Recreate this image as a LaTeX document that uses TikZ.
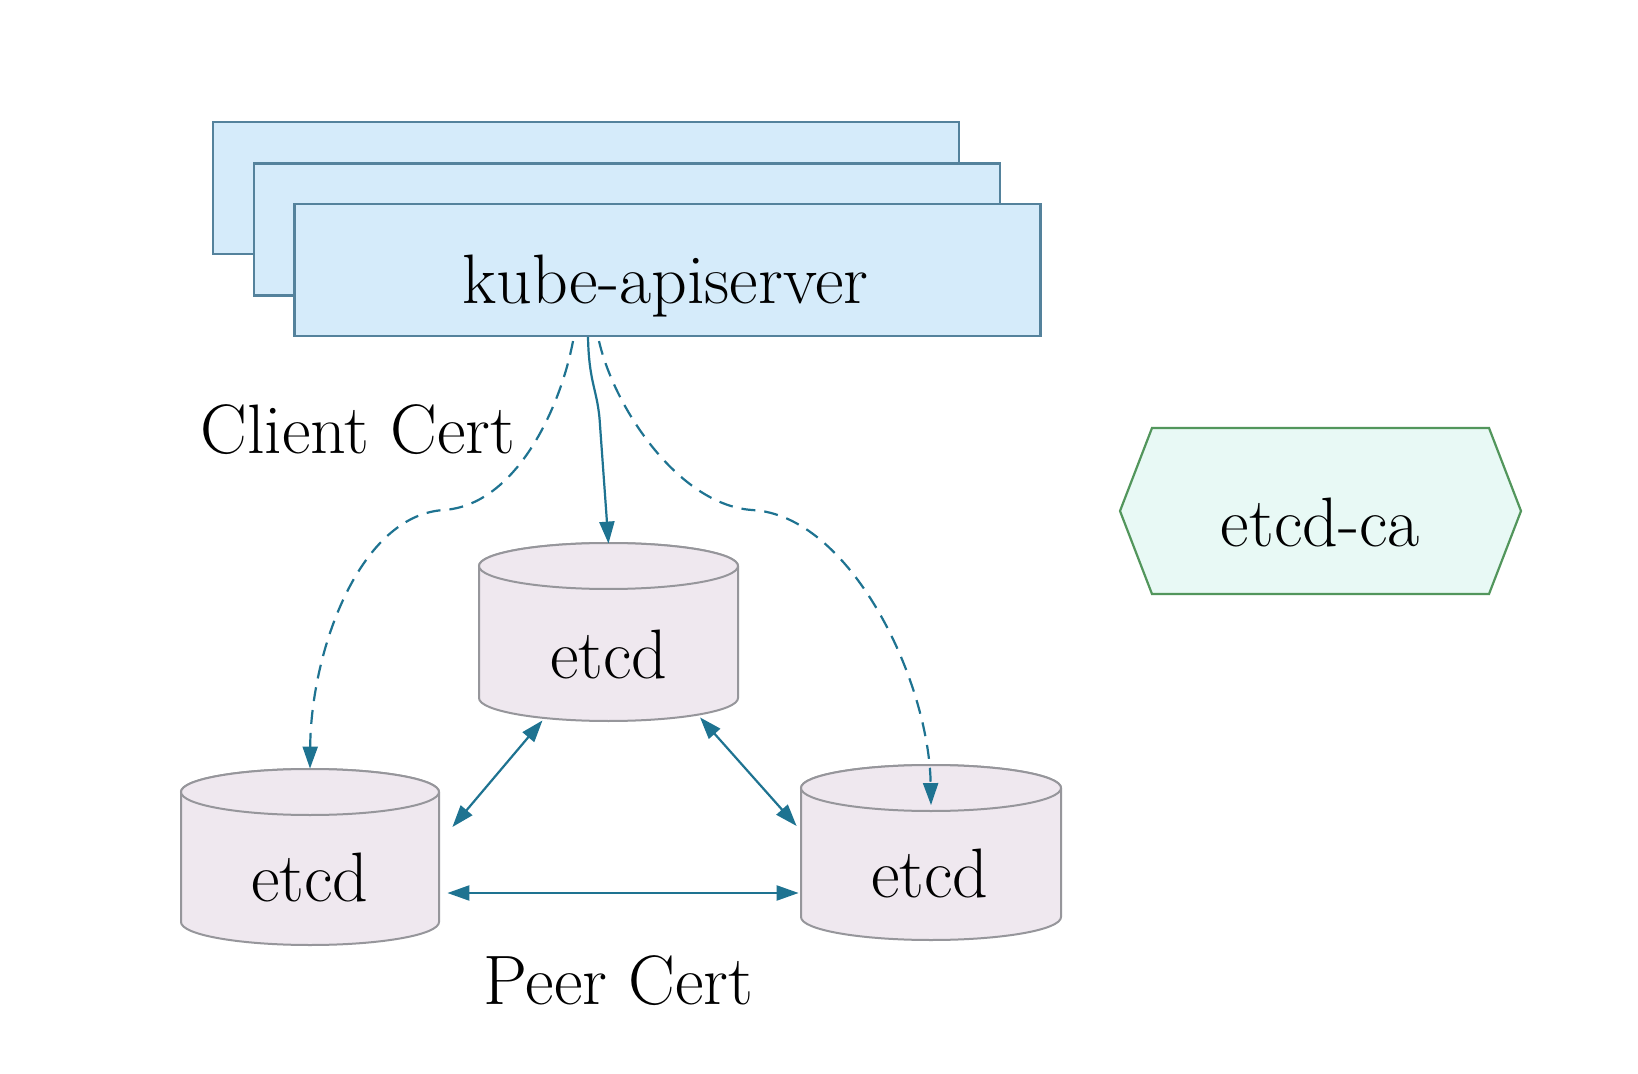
\documentclass[tikz,border=0pt]{standalone}
\usetikzlibrary{arrows.meta}
\definecolor{boxfill}{RGB}{213,235,250}
\definecolor{boxline}{RGB}{84,130,156}
\definecolor{cylfill}{RGB}{239,232,239}
\definecolor{cylline}{RGB}{150,150,155}
\definecolor{hexfill}{RGB}{232,249,245}
\definecolor{hexline}{RGB}{82,150,92}
\definecolor{arr}{RGB}{30,115,145}
\tikzset{
  apibox/.style={draw=boxline, fill=boxfill, line width=1.1pt, minimum width=373pt, minimum height=66pt, inner sep=0pt},
  cylbox/.style={draw=none, minimum width=129pt, minimum height=88pt, inner sep=0pt},
  cylshape/.style={draw=cylline, fill=cylfill, line width=1pt},
  lbl/.style={font=\fontsize{35}{40}\selectfont, inner sep=0pt},
  tip/.style={},
  conn/.style={draw=arr, line width=1.1pt, -{Triangle[length=11pt,width=7.5pt]}},
  dconn/.style={conn, dash pattern=on 7pt off 4.5pt},
  biconn/.style={draw=arr, line width=1.1pt, {Triangle[length=11pt,width=7.5pt]}-{Triangle[length=11pt,width=7.5pt]}},
}
\newcommand\drawcyl[4]{%
  \pgfmathsetmacro\cxa{(#1+#3)/2}%
  \pgfmathsetmacro\rxa{(#3-#1)/2}%
  \draw[cylshape] (#1,#2+23) -- (#1,#4-23)
     arc[start angle=180, end angle=0, x radius=\rxa, y radius=23]
     -- (#3,#2+23)
     arc[start angle=0, end angle=-180, x radius=\rxa, y radius=23] -- cycle;
  \draw[cylshape] (\cxa,#2+23) ellipse[x radius=\rxa, y radius=23];
}
\begin{document}
\begin{tikzpicture}[x=0.5pt, y=-0.5pt]
\useasboundingbox[fill=white] (0,0) rectangle (1638,1074);

% kube-apiserver stack
\node[apibox] (api1) at (586,188) {};
\node[apibox] (api2) at (627,229.5) {};
\node[apibox] (api3) at (667.5,270) {};
\node[lbl] (apitext) at (665.5,286) {kube-apiserver};

% etcd-ca hexagon
\draw[draw=hexline, fill=hexfill, line width=1.1pt]
  (1120,511) -- (1152,428) -- (1489,428) -- (1521,511) -- (1489,594) -- (1152,594) -- cycle;
\node[lbl] (ca) at (1320.5,522) {etcd-ca};

% cylinders
\drawcyl{479}{543}{738}{721}
\drawcyl{181}{769}{439}{945}
\drawcyl{801}{765}{1061}{940}
\node[cylbox] (etcdT) at (608.5,632) {};
\node[cylbox] (etcdL) at (310,857) {};
\node[cylbox] (etcdR) at (931,852.5) {};
\node[lbl] (tT) at (609,654) {etcd};
\node[lbl] (tL) at (310,877.5) {etcd};
\node[lbl] (tR) at (930,873) {etcd};

% labels
\node[lbl] (client) at (358,430) {Client Cert};
\node[lbl] (peer) at (618.5,981) {Peer Cert};

% client connectors
\coordinate (sS) at ([xshift=-39.75pt]api3.south);
\coordinate (sL) at ([xshift=-47.25pt,yshift=-2pt]api3.south);
\coordinate (sR) at ([xshift=-34.25pt,yshift=-2pt]api3.south);
\coordinate (mL) at (444,510);
\coordinate (mR) at (752,510);
\draw[conn] (sS) .. controls (589,385) and (598,390) .. (600,425) -- (etcdT.north);
\draw[dconn] (sL) .. controls (560,410) and (515,505) .. (mL)
   .. controls (360,515) and (311,650) .. (etcdL.north);
\draw[dconn] (sR) .. controls (615,410) and (680,505) .. (mR)
   .. controls (850,515) and (929,680) .. ([yshift=-20.5pt]etcdR.north);

% peer connectors
\draw[biconn] ([xshift=6.5pt,yshift=15pt]etcdL.east) -- ([xshift=-33pt]etcdT.south);
\draw[biconn] ([xshift=45.75pt,yshift=1.5pt]etcdT.south) -- ([xshift=-2.5pt,yshift=13.25pt]etcdR.west);
\draw[biconn] ([xshift=4pt,yshift=-18pt]etcdL.east) -- ([xshift=-1.5pt,yshift=-20.25pt]etcdR.west);
\end{tikzpicture}
\end{document}
